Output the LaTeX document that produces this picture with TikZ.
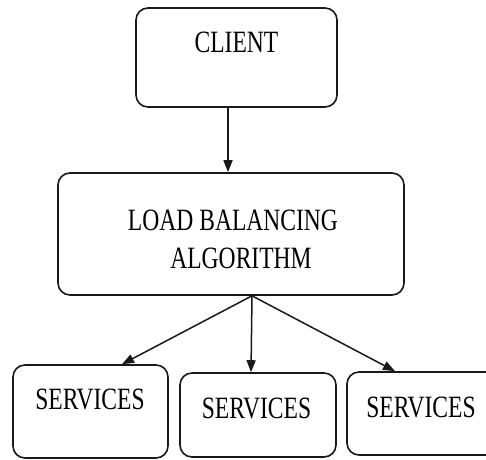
\documentclass[tikz,border=0pt]{standalone}
\usepackage{fontspec}
\setmainfont{Liberation Serif}
\newfontfamily\boxfont[FakeStretch=0.76]{Liberation Serif}
\usetikzlibrary{arrows.meta,calc}
\tikzset{
  box/.style={draw=black!90, line width=1.6pt, rounded corners=12pt, inner sep=0pt},
  lbl/.style={anchor=base, inner sep=0pt, font=\boxfont\fontsize{31}{38}\selectfont, text=black},
  arr/.style={draw=black!90, line width=1.5pt, -{Triangle[length=12pt,width=9pt]}}
}
\begin{document}
\begin{tikzpicture}[x=1pt,y=-1pt]
\clip (0,0) rectangle (486,459);
\fill[white] (0,0) rectangle (486,459);
% boxes
\node[box, minimum width=201pt, minimum height=99pt] (client) at (236.5,57.5) {};
\node[box, minimum width=346pt, minimum height=122pt] (lb) at (231,234) {};
\node[box, minimum width=155pt, minimum height=93pt] (s1) at (90.5,411.5) {};
\node[box, minimum width=156pt, minimum height=84pt] (s2) at (258,415) {};
\node[box, minimum width=153pt, minimum height=83pt] (s3) at (423.5,413.5) {};
% texts
\node[lbl] (tclient) at (236.5,52) {CLIENT};
\node[lbl] (tlb1) at (233,230) {LOAD BALANCING};
\node[lbl] (tlb2) at (241,268) {ALGORITHM};
\node[lbl] (ts1) at (90,409) {SERVICES};
\node[lbl] (ts2) at (256.5,418) {SERVICES};
\node[lbl] (ts3) at (421,417) {SERVICES};
% connectors
\draw[arr] ([xshift=-8.5pt]client.south) -- ([xshift=-3pt]lb.north);
\coordinate (fork) at ([xshift=21pt]lb.south);
\draw[arr] (fork) -- ([xshift=31.5pt]s1.north);
\draw[arr] (fork) -- ([xshift=-7pt]s2.north);
\draw[arr] (fork) -- ([xshift=-28.5pt]s3.north);
\end{tikzpicture}
\end{document}
